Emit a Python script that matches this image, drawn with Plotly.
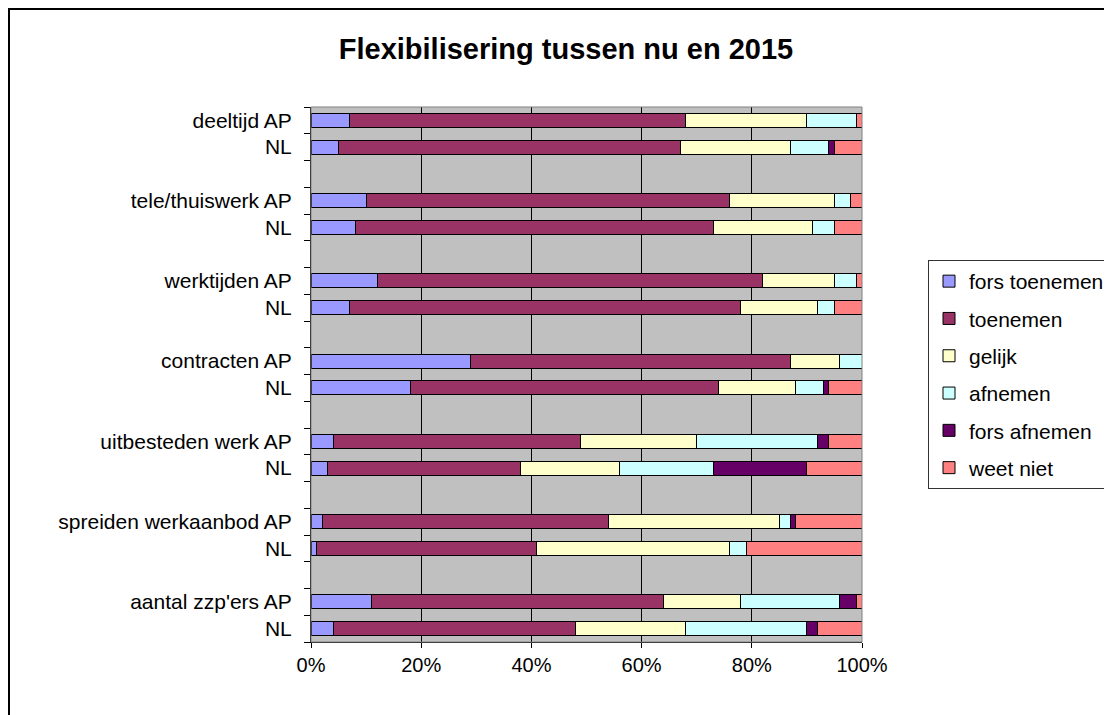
import plotly.graph_objects as go

# Categories: each group has an AP row and an NL row
groups = ["deeltijd", "tele/thuiswerk", "werktijden", "contracten",
          "uitbesteden werk", "spreiden werkaanbod", "aantal zzp'ers"]
subrows = ["AP", "NL"]

# Shares (%) per row, order: group1 AP, group1 NL, group2 AP, ...
fors_toenemen = [7, 5, 10, 8, 12, 7, 29, 18, 4, 3, 2, 1, 11, 4]
toenemen = [61, 62, 66, 65, 70, 71, 58, 56, 45, 35, 52, 40, 53, 44]
gelijk = [22, 20, 19, 18, 13, 14, 9, 14, 21, 18, 31, 35, 14, 20]
afnemen = [9, 7, 3, 4, 4, 3, 4, 5, 22, 17, 2, 3, 18, 22]
fors_afnemen = [0, 1, 0, 0, 0, 0, 0, 1, 2, 17, 1, 0, 3, 2]
weet_niet = [1, 5, 2, 5, 1, 5, 0, 6, 6, 10, 12, 21, 1, 8]

series_names = ["fors toenemen", "toenemen", "gelijk", "afnemen", "fors afnemen", "weet niet"]
series_values = [fors_toenemen, toenemen, gelijk, afnemen, fors_afnemen, weet_niet]
series_colors = ["#9999FF", "#993366", "#FFFFCC", "#CCFFFF", "#660066", "#FF8080"]

x_ticks = [0, 20, 40, 60, 80, 100]
x_tick_labels = ["0%", "20%", "40%", "60%", "80%", "100%"]

FONT = "Liberation Sans, Arial, sans-serif"

# row slots: AP, NL, then an empty slot between groups
slot = len(subrows) + 1
y_pos = []
y_labels = []
for g, name in enumerate(groups):
    for s, sub in enumerate(subrows):
        y_pos.append(g * slot + s)
        y_labels.append(f"{name} {sub}" if s == 0 else sub)
n_slots = len(groups) * slot - 1

fig = go.Figure()
for i, (name, vals, col) in enumerate(zip(series_names, series_values, series_colors)):
    fig.add_trace(go.Bar(
        x=vals, y=y_pos, orientation='h', name=name,
        marker=dict(color=col, line=dict(color='black', width=1)),
        legendgroup=str(i)
    ))

# page body has an 8px margin, so work in page pixels minus that offset
OFF = 8
W, H = 1112 - OFF, 715 - OFF
L, R, T, B = 311 - OFF, 862 - OFF, 107 - OFF, 642 - OFF
pw, ph = R - L, B - T

fig.update_layout(
    width=W, height=H,
    barmode='stack', barnorm='percent', bargap=0.47,
    plot_bgcolor='#C0C0C0', paper_bgcolor='white',
    font=dict(family=FONT, size=21, color='black'),
    margin=dict(l=L, r=W - R, t=T, b=H - B, autoexpand=False),
    title=dict(text="<b>Flexibilisering tussen nu en 2015</b>",
               font=dict(family=FONT, size=29, color='black'),
               x=(566 - OFF) / W, xanchor='center', xref='container',
               y=1 - (49 - OFF) / H, yanchor='middle', yref='container'),
    legend=dict(x=(928 - OFF - L) / pw, xanchor='left', y=1 - (260 - OFF - T) / ph, yanchor='top',
                bordercolor='#333333', borderwidth=1, bgcolor='white',
                font=dict(family=FONT, size=21),
                traceorder='grouped', tracegroupgap=7, itemwidth=30),
    showlegend=True,
)

fig.update_xaxes(
    range=[0, 100], tickmode='array', tickvals=x_ticks, ticktext=x_tick_labels,
    tickfont=dict(size=20),
    showgrid=True, gridcolor='black', gridwidth=1,
    showline=True, linecolor='black', linewidth=1,
    ticks='outside', ticklen=5, tickcolor='black',
    zeroline=False, fixedrange=True
)

fig.update_yaxes(
    range=[n_slots - 0.5, -0.5], tickmode='array', tickvals=y_pos, ticktext=y_labels,
    showgrid=False, zeroline=False,
    showline=True, linecolor='black', linewidth=1,
    ticks='', ticklabelstandoff=14,
    minor=dict(tickmode='array', tickvals=[v - 0.5 for v in range(n_slots + 1)],
               ticks='outside', ticklen=6, tickcolor='black', showgrid=False),
    fixedrange=True
)

# plot area border (grey) and outer chart frame (black, at the page's top-left edge)
fig.add_shape(type='rect', xref='paper', yref='paper', x0=0, x1=1, y0=0, y1=1,
              line=dict(color='#808080', width=1), layer='above')
fig.add_shape(type='rect', xref='paper', yref='paper',
              x0=(1 - L) / pw, x1=(W + 50 - L) / pw,
              y0=-(H + 50 - B) / ph, y1=1 + (T - 1) / ph,
              line=dict(color='black', width=2))

fig.write_html("out.html")
